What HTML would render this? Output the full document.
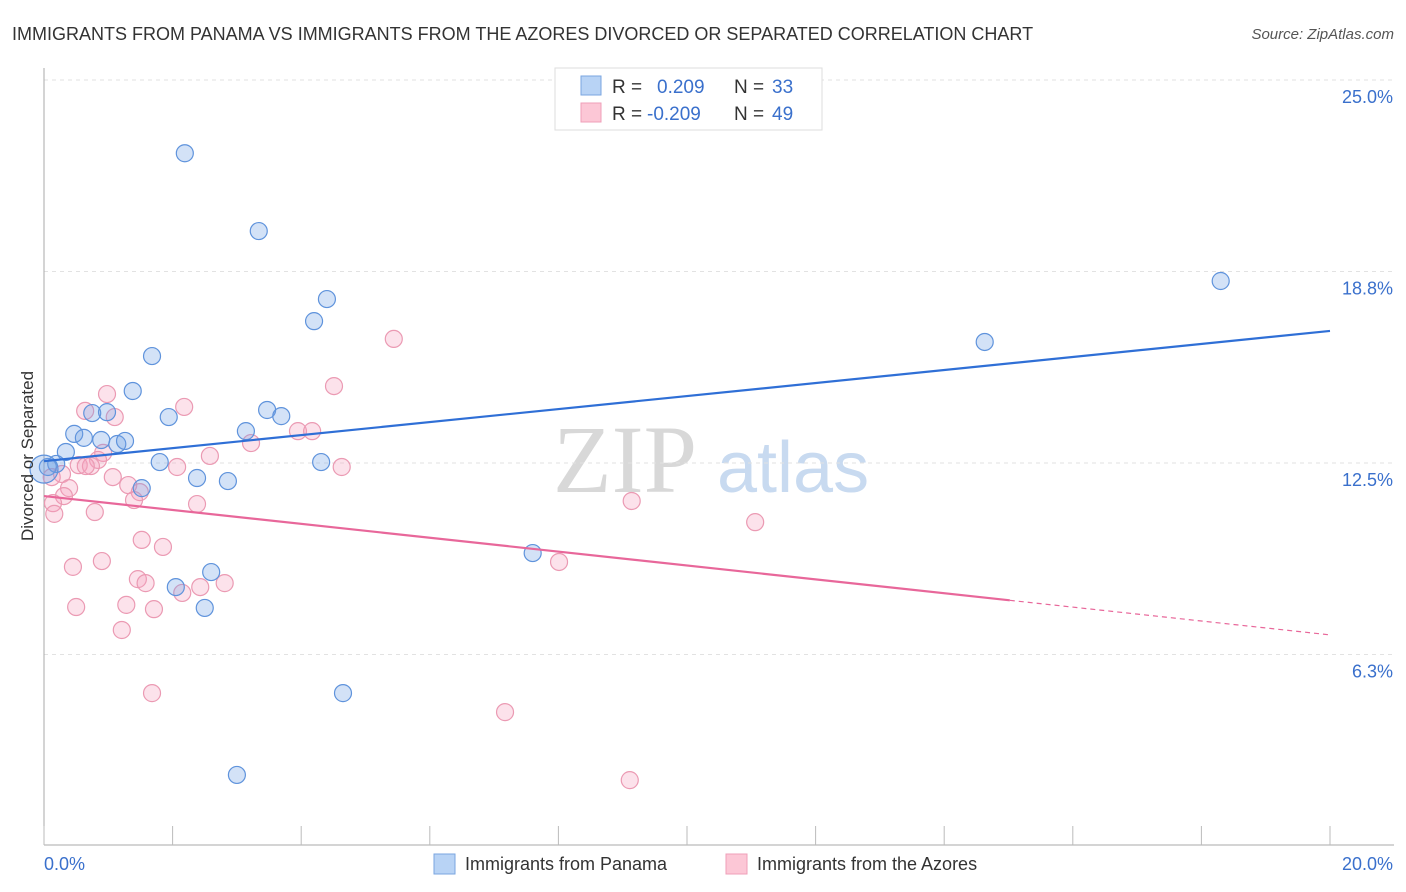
<!DOCTYPE html>
<html><head><meta charset="utf-8"><style>
body{margin:0;background:#fff;font-family:"Liberation Sans",sans-serif;}
svg{display:block}
</style></head><body>
<svg id="chart" width="1406" height="892">
<text x="12" y="40" font-size="18" fill="#333">IMMIGRANTS FROM PANAMA VS IMMIGRANTS FROM THE AZORES DIVORCED OR SEPARATED CORRELATION CHART</text>
<text x="1394" y="39" font-size="15" fill="#555" font-style="italic" text-anchor="end">Source: ZipAtlas.com</text>
<g>
<text x="553" y="492" font-size="96" font-family="Liberation Serif,serif" fill="#d8d8d8">ZIP</text>
<text x="717" y="492" font-size="72" fill="#c8daf0">atlas</text>
</g>
<g id="grid"></g>
<g id="axes"></g>
<g id="marks"></g>
<g>
<rect x="555" y="68" width="267" height="62" fill="#fff" stroke="#ddd"/>
<rect x="581" y="76" width="20" height="19" fill="#b8d3f5" stroke="#7aa6e0"/>
<rect x="581" y="103" width="20" height="19" fill="#fcc7d6" stroke="#ef9fb8"/>
<text x="612" y="93" font-size="19" fill="#333">R =</text>
<text x="657" y="93" font-size="19" fill="#3a70cc">0.209</text>
<text x="734" y="93" font-size="19" fill="#333">N =</text>
<text x="772" y="93" font-size="19" fill="#3a70cc">33</text>
<text x="612" y="120" font-size="19" fill="#333">R =</text>
<text x="647" y="120" font-size="19" fill="#3a70cc">-0.209</text>
<text x="734" y="120" font-size="19" fill="#333">N =</text>
<text x="772" y="120" font-size="19" fill="#3a70cc">49</text>
</g>
<g>
<rect x="434" y="854" width="21" height="20" fill="#b8d3f5" stroke="#7aa6e0"/>
<text x="465" y="870" font-size="18" fill="#333">Immigrants from Panama</text>
<rect x="726" y="854" width="21" height="20" fill="#fcc7d6" stroke="#ef9fb8"/>
<text x="757" y="870" font-size="18" fill="#333">Immigrants from the Azores</text>
</g>
<text transform="translate(33,456) rotate(-90)" font-size="17" fill="#333" text-anchor="middle">Divorced or Separated</text>
</svg>
<script>
const yTicks=[25,18.75,12.5,6.25];
const yTickLabels=["25.0%","18.8%","12.5%","6.3%"];
const xTicks=[0,2,4,6,8,10,12,14,16,18,20];
const blueX=[2.19,3.34,4.40,4.20,1.68,1.38,0.75,0.98,1.94,3.47,3.69,3.14,0.47,0.62,0.89,1.14,1.26,0.34,0.19,0.06,1.80,4.31,2.38,2.86,1.52,7.60,2.60,2.05,2.50,4.65,3.00,14.63,18.30];
const blueY=[22.61,20.07,17.85,17.13,15.99,14.85,14.13,14.16,14.00,14.23,14.03,13.54,13.45,13.32,13.25,13.12,13.22,12.86,12.47,12.37,12.53,12.53,12.01,11.91,11.68,9.56,8.94,8.45,7.77,4.99,2.32,16.45,18.44];
const pinkX=[5.44,4.51,0.98,0.64,1.10,2.18,3.95,4.17,3.22,0.92,0.84,2.58,0.54,0.73,0.65,2.07,4.63,0.28,0.12,1.07,1.31,0.39,1.49,0.31,1.40,0.14,2.38,0.16,0.79,9.14,11.06,1.52,1.85,0.90,0.45,8.01,1.46,1.58,2.81,2.43,2.15,1.28,0.50,1.71,1.21,1.68,7.17,9.11];
const pinkY=[16.55,15.01,14.75,14.20,14.00,14.33,13.54,13.54,13.15,12.83,12.60,12.73,12.43,12.40,12.40,12.37,12.37,12.14,12.04,12.04,11.78,11.68,11.55,11.42,11.29,11.19,11.16,10.84,10.90,11.26,10.57,9.99,9.76,9.30,9.11,9.27,8.71,8.58,8.58,8.45,8.26,7.87,7.80,7.73,7.05,4.99,4.37,2.15];
const blueTrend=[12.56,16.81];
const pinkTrend=[11.42,6.89];
const pinkSolidEnd=15.02;

const NS="http://www.w3.org/2000/svg";
const X=v=>44+v/20*1286;
const Y=v=>846-v/6.25*191.5;
function mk(t,a,p){const e=document.createElementNS(NS,t);for(const k in a)e.setAttribute(k,a[k]);p.appendChild(e);return e;}
const grid=document.getElementById('grid'),axes=document.getElementById('axes'),marks=document.getElementById('marks');
mk('line',{x1:44,x2:1394,y1:80,y2:80,stroke:'#e2e2e2','stroke-dasharray':'4,4'},grid);
yTicks.forEach((t,i)=>{
  const l=mk('line',{x1:44,x2:1394,y1:Y(t),y2:Y(t),stroke:'#e2e2e2','stroke-dasharray':'4,4'},grid);
  
  
  const tx=mk('text',{x:1393,y:Y(t)+23,'font-size':18,fill:'#3a70cc','text-anchor':'end'},axes);
  tx.textContent=yTickLabels[i];
  
  
});
mk('line',{x1:44,x2:44,y1:68,y2:845,stroke:'#aaa'},axes);
mk('line',{x1:44,x2:1394,y1:845,y2:845,stroke:'#aaa'},axes);
xTicks.forEach(t=>{
  const l=mk('line',{x1:X(t),x2:X(t),y1:826,y2:845,stroke:'#bbb'},axes);
  
  
});
const x0=mk('text',{x:44,y:870,'font-size':18,fill:'#3a70cc'},axes);x0.textContent='0.0%';


const x1=mk('text',{x:1393,y:870,'font-size':18,fill:'#3a70cc','text-anchor':'end'},axes);x1.textContent='20.0%';



pinkX.forEach((v,i)=>{
  const c=mk('circle',{cx:X(v),cy:Y(pinkY[i]),r:8.5,fill:'rgba(245,160,190,0.3)',stroke:'#eb9ab3','stroke-width':1.2},marks);
  
  
});
blueX.forEach((v,i)=>{
  const c=mk('circle',{cx:X(v),cy:Y(blueY[i]),r:8.5,fill:'rgba(110,160,230,0.3)',stroke:'#5f93dc','stroke-width':1.2},marks);
  
  
});
const big=mk('circle',{cx:X(0),cy:Y(12.3),r:14,fill:'rgba(110,160,230,0.3)',stroke:'#5f93dc','stroke-width':1.2},marks);


const bt=mk('line',{x1:X(0),y1:Y(blueTrend[0]),x2:X(20),y2:Y(blueTrend[1]),stroke:'#2f6fd6','stroke-width':2.2},marks);


const pAt=v=>pinkTrend[0]+(pinkTrend[1]-pinkTrend[0])*v/20;
const pt=mk('line',{x1:X(0),y1:Y(pinkTrend[0]),x2:X(pinkSolidEnd),y2:Y(pAt(pinkSolidEnd)),stroke:'#e8679a','stroke-width':2.2},marks);


const pd=mk('line',{x1:X(pinkSolidEnd),y1:Y(pAt(pinkSolidEnd)),x2:X(20),y2:Y(pinkTrend[1]),stroke:'#e8679a','stroke-width':1.2,'stroke-dasharray':'5,4'},marks);


</script>
</body></html>
